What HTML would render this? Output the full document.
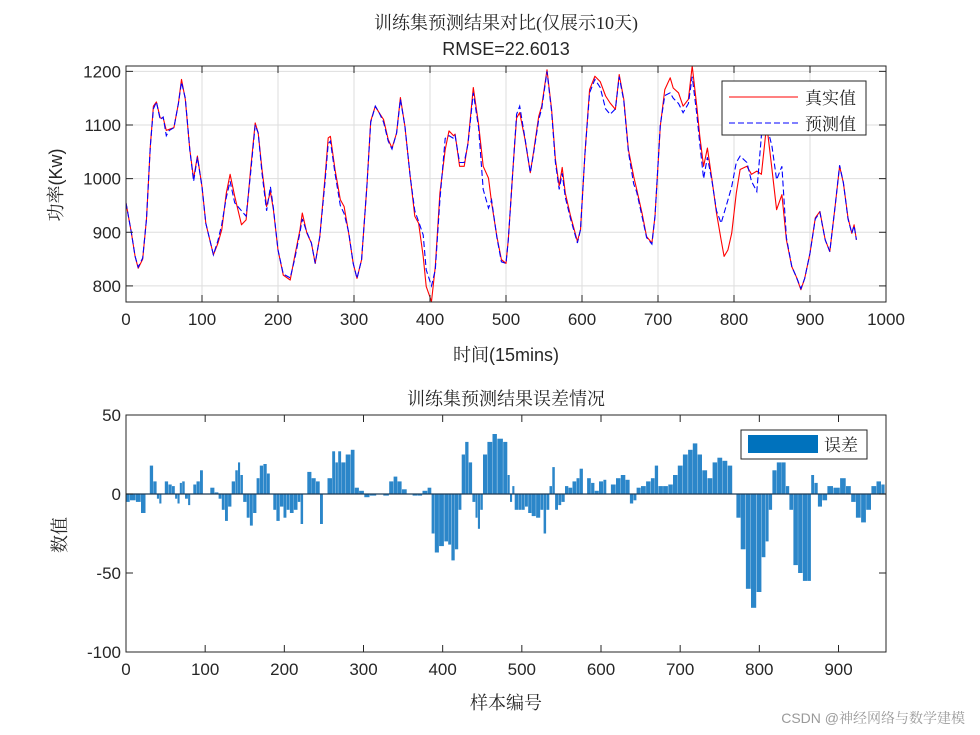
<!DOCTYPE html>
<html><head><meta charset="utf-8">
<style>
html,body{margin:0;padding:0;background:#fff;}
svg{display:block;}
text{font-family:"Liberation Sans","Noto Serif CJK SC",sans-serif;fill:#262626;}
.cn{font-family:"Liberation Serif","Noto Serif CJK SC",serif;}
</style></head>
<body>
<svg id="chart" width="980" height="735" viewBox="0 0 980 735" xmlns="http://www.w3.org/2000/svg">
<rect width="980" height="735" fill="#fff"/>
<g id="topAxes"></g>
<g id="botAxes"></g>
<text class="cn" x="506" y="29" font-size="18" text-anchor="middle">训练集预测结果对比(仅展示10天)</text>
<text x="506" y="55" font-size="18" text-anchor="middle">RMSE=22.6013</text>
<text x="506" y="361" font-size="18" text-anchor="middle">时间(15mins)</text>
<text x="0" y="0" font-size="18" text-anchor="middle" transform="translate(62,185) rotate(-90)">功率(Kw)</text>
<text class="cn" x="506" y="405" font-size="18" text-anchor="middle">训练集预测结果误差情况</text>
<text class="cn" x="506" y="709" font-size="18" text-anchor="middle">样本编号</text>
<text class="cn" x="0" y="0" font-size="18" text-anchor="middle" transform="translate(66,535) rotate(-90)">数值</text>
<text x="965" y="723" font-size="14" text-anchor="end" style="fill:#9a9a9a">CSDN @神经网络与数学建模</text>
</svg>
<script>
const sampleIdx=[0,7,12,16,22,27,32,36,40,45,49,53,57,63,69,73,78,84,89,94,100,105,115,121,126,132,137,143,152,158,164,170,174,179,185,190,194,200,207,216,222,229,232,238,244,249,255,262,266,269,275,282,287,293,299,304,310,317,322,328,333,339,345,350,356,361,367,374,380,385,391,395,402,407,413,420,425,431,433,439,445,450,457,464,470,477,481,488,494,500,503,510,514,518,525,532,536,543,547,554,560,565,570,574,578,585,594,598,604,610,617,624,631,637,644,649,655,661,668,672,679,685,692,696,703,709,716,720,727,733,740,745,751,755,760,765,771,777,783,787,792,797,803,808,817,823,830,836,843,850,856,863,869,876,882,888,893,900,907,913,920,926,933,939,944,950,955,958,961];
const trueVals=[955,900,855,833,850,925,1060,1135,1143,1113,1113,1090,1092,1095,1140,1185,1148,1054,1000,1042,985,917,858,880,905,973,1008,967,914,923,1017,1104,1085,1017,948,976,942,867,820,811,855,905,936,898,880,842,892,1004,1076,1079,1017,961,948,898,842,814,849,986,1107,1135,1123,1110,1073,1057,1085,1151,1098,1004,930,917,855,799,771,836,973,1054,1089,1080,1083,1023,1023,1067,1170,1101,1023,1001,955,892,849,842,886,1036,1113,1123,1073,1011,1048,1116,1135,1203,1129,1036,986,1021,973,930,883,905,1048,1166,1191,1181,1154,1141,1129,1194,1148,1054,1004,980,936,892,880,930,1098,1166,1188,1169,1160,1135,1148,1210,1135,1079,1023,1057,998,936,886,855,867,898,973,1017,1023,1008,1014,1008,1101,1017,942,970,886,836,817,793,814,861,927,939,886,864,948,1023,992,927,898,914,886];
const predVals=[955,900,855,835,852,925,1060,1130,1143,1110,1115,1080,1090,1095,1140,1180,1150,1054,995,1040,985,917,858,885,915,965,995,955,940,930,1010,1100,1085,1010,940,985,945,867,822,815,850,900,925,900,880,842,892,995,1065,1070,1010,950,935,900,842,814,849,986,1105,1135,1123,1105,1070,1055,1085,1148,1098,1004,940,920,895,830,800,830,960,1075,1080,1075,1080,1030,1030,1065,1160,1095,980,945,960,890,845,842,886,1036,1120,1135,1075,1011,1045,1110,1130,1200,1125,1030,980,1010,965,925,880,905,1048,1160,1185,1170,1130,1120,1130,1190,1145,1050,990,975,930,890,878,930,1100,1155,1160,1150,1140,1123,1140,1190,1120,1065,1000,1040,995,940,917,936,960,985,1030,1042,1030,995,976,1080,1100,1060,998,1023,890,836,817,795,814,861,925,937,886,864,948,1025,992,925,898,912,886];
const yTicksTop=[800,900,1000,1100,1200];
const xTicksTop=[0,100,200,300,400,500,600,700,800,900,1000];
const errIdx=[1,9,16,22,28,32,37,41,43,47,51,56,60,64,66,70,72,77,80,83,87,91,96,99,104,109,115,119,123,127,131,136,140,143,146,150,155,158,163,167,171,176,180,184,188,192,197,201,205,209,215,219,222,226,232,237,243,247,251,258,263,266,270,274,281,287,291,298,304,312,321,329,336,340,346,351,359,365,371,378,384,388,392,399,405,409,413,418,422,426,431,435,440,443,446,449,453,460,466,472,481,483,487,489,493,498,502,506,510,515,521,526,529,533,537,540,544,548,552,557,561,567,571,575,580,585,590,594,601,605,609,616,622,628,634,639,643,647,654,660,666,670,675,682,688,694,700,707,713,719,725,731,738,744,750,757,763,769,773,780,786,793,800,806,810,814,819,825,831,836,840,846,852,858,864,867,872,876,883,889,898,906,913,919,925,932,938,945,951,957];
const errVals=[-5,-4,-5,-12,0,18,8,-3,-6,0,8,6,5,-3,-6,7,8,-3,-7,0,6,8,15,0,0,4,1,-3,-10,-17,-8,8,15,20,12,-5,-15,-20,-12,10,18,19,13,0,-10,-17,-8,-15,-10,-12,-10,-5,-19,0,14,10,8,-19,0,10,27,20,27,20,25,28,4,2,-2,-1,0,-1,8,11,8,3,0,-1,-1,2,4,-25,-37,-33,-30,-32,-42,-35,-10,25,33,20,-5,-15,-22,-10,25,33,38,35,33,12,-5,5,-10,-10,-10,-8,-12,-14,-15,-10,-25,-10,5,17,-10,-7,-5,5,4,8,10,16,0,10,7,2,8,9,0,6,10,12,9,-6,-4,4,5,8,10,18,5,5,6,12,18,25,28,32,25,15,10,20,23,21,18,0,-15,-35,-60,-72,-62,-40,-30,-10,15,20,20,5,-10,-45,-50,-55,-55,12,7,-8,-4,5,4,10,5,-5,-15,-18,-10,5,8,6];
const yTicksBot=[-100,-50,0,50];
const xTicksBot=[0,100,200,300,400,500,600,700,800,900];

const NS='http://www.w3.org/2000/svg';
function mk(parent,tag,attrs){const e=document.createElementNS(NS,tag);for(const k in attrs)e.setAttribute(k,attrs[k]);parent.appendChild(e);return e;}

const T={l:126,r:886,t:66,b:302,x0:0,x1:1000,y0:770,y1:1210};
const tx=v=>T.l+(v-T.x0)/(T.x1-T.x0)*(T.r-T.l);
const ty=v=>T.b-(v-T.y0)/(T.y1-T.y0)*(T.b-T.t);
const gTop=document.getElementById('topAxes');
xTicksTop.forEach(v=>{
 const g=mk(gTop,'line',{x1:tx(v),x2:tx(v),y1:T.t,y2:T.b,stroke:'#dedede','stroke-width':1});
 
 
});
yTicksTop.forEach(v=>{
 const g=mk(gTop,'line',{x1:T.l,x2:T.r,y1:ty(v),y2:ty(v),stroke:'#dedede','stroke-width':1});
 
 
});
function linePath(xs,ys,fx,fy){return xs.map((x,i)=>(i?'L':'M')+fx(x).toFixed(1)+','+fy(ys[i]).toFixed(1)).join('');}
const redLine=mk(gTop,'path',{d:linePath(sampleIdx,trueVals,tx,ty),fill:'none',stroke:'#ff0000','stroke-width':1.1,'stroke-linejoin':'round'});


const blueLine=mk(gTop,'path',{d:linePath(sampleIdx,predVals,tx,ty),fill:'none',stroke:'#0000ff','stroke-width':1.1,'stroke-dasharray':'6,3'});


const tb=mk(gTop,'rect',{x:T.l,y:T.t,width:T.r-T.l,height:T.b-T.t,fill:'none',stroke:'#262626','stroke-width':1});


xTicksTop.forEach(v=>{
 mk(gTop,'line',{x1:tx(v),x2:tx(v),y1:T.b,y2:T.b-7,stroke:'#262626'});
 mk(gTop,'line',{x1:tx(v),x2:tx(v),y1:T.t,y2:T.t+7,stroke:'#262626'});
 const t=mk(gTop,'text',{x:tx(v),y:T.b+23,'font-size':17,'text-anchor':'middle'});t.textContent=v;
 
 
});
yTicksTop.forEach(v=>{
 mk(gTop,'line',{x1:T.l,x2:T.l+7,y1:ty(v),y2:ty(v),stroke:'#262626'});
 mk(gTop,'line',{x1:T.r,x2:T.r-7,y1:ty(v),y2:ty(v),stroke:'#262626'});
 const t=mk(gTop,'text',{x:T.l-5,y:ty(v)+6,'font-size':17,'text-anchor':'end'});t.textContent=v;
 
 
});
const lg=mk(gTop,'g',{});


mk(lg,'rect',{x:722,y:81,width:144,height:54,fill:'#fff',stroke:'#262626','stroke-width':1});
mk(lg,'line',{x1:729,x2:798,y1:97,y2:97,stroke:'#ff0000','stroke-width':1.1});
mk(lg,'line',{x1:729,x2:798,y1:123,y2:123,stroke:'#0000ff','stroke-width':1.1,'stroke-dasharray':'6,3'});
let l1=mk(lg,'text',{x:805,y:104,'font-size':17,class:'cn'});l1.textContent='真实值';


let l2=mk(lg,'text',{x:805,y:130,'font-size':17,class:'cn'});l2.textContent='预测值';



const B={l:126,r:886,t:415,b:652,x0:0,x1:960,y0:-100,y1:50};
const bx=v=>B.l+(v-B.x0)/(B.x1-B.x0)*(B.r-B.l);
const by=v=>B.b-(v-B.y0)/(B.y1-B.y0)*(B.b-B.t);
const gBot=document.getElementById('botAxes');
errIdx.forEach((idx,i)=>{
 const prev=i>0?errIdx[i-1]:idx-2;
 const next=i<errIdx.length-1?errIdx[i+1]:idx+3;
 const x0=bx((prev+idx)/2), x1=bx((idx+next)/2);
 const y=by(errVals[i]), y0=by(0);
 const r=mk(gBot,'rect',{x:x0.toFixed(1),y:Math.min(y,y0).toFixed(1),width:Math.max(0.8,x1-x0-0.3).toFixed(1),height:Math.abs(y-y0).toFixed(1),fill:'#2b86c9'});
 
 
});
const zl=mk(gBot,'line',{x1:B.l,x2:B.r,y1:by(0),y2:by(0),stroke:'#1f3a55','stroke-width':1.2});


const bb=mk(gBot,'rect',{x:B.l,y:B.t,width:B.r-B.l,height:B.b-B.t,fill:'none',stroke:'#262626','stroke-width':1});


xTicksBot.forEach(v=>{
 mk(gBot,'line',{x1:bx(v),x2:bx(v),y1:B.b,y2:B.b-7,stroke:'#262626'});
 mk(gBot,'line',{x1:bx(v),x2:bx(v),y1:B.t,y2:B.t+7,stroke:'#262626'});
 const t=mk(gBot,'text',{x:bx(v),y:B.b+23,'font-size':17,'text-anchor':'middle'});t.textContent=v;
 
 
});
yTicksBot.forEach(v=>{
 mk(gBot,'line',{x1:B.l,x2:B.l+7,y1:by(v),y2:by(v),stroke:'#262626'});
 mk(gBot,'line',{x1:B.r,x2:B.r-7,y1:by(v),y2:by(v),stroke:'#262626'});
 const t=mk(gBot,'text',{x:B.l-5,y:by(v)+6,'font-size':17,'text-anchor':'end'});t.textContent=v;
 
 
});
const bl=mk(gBot,'g',{});


mk(bl,'rect',{x:741,y:430,width:126,height:29,fill:'#fff',stroke:'#262626','stroke-width':1});
mk(bl,'rect',{x:748,y:435,width:70,height:18,fill:'#0072bd'});
let l3=mk(bl,'text',{x:824,y:451,'font-size':17,class:'cn'});l3.textContent='误差';


</script>
</body></html>
